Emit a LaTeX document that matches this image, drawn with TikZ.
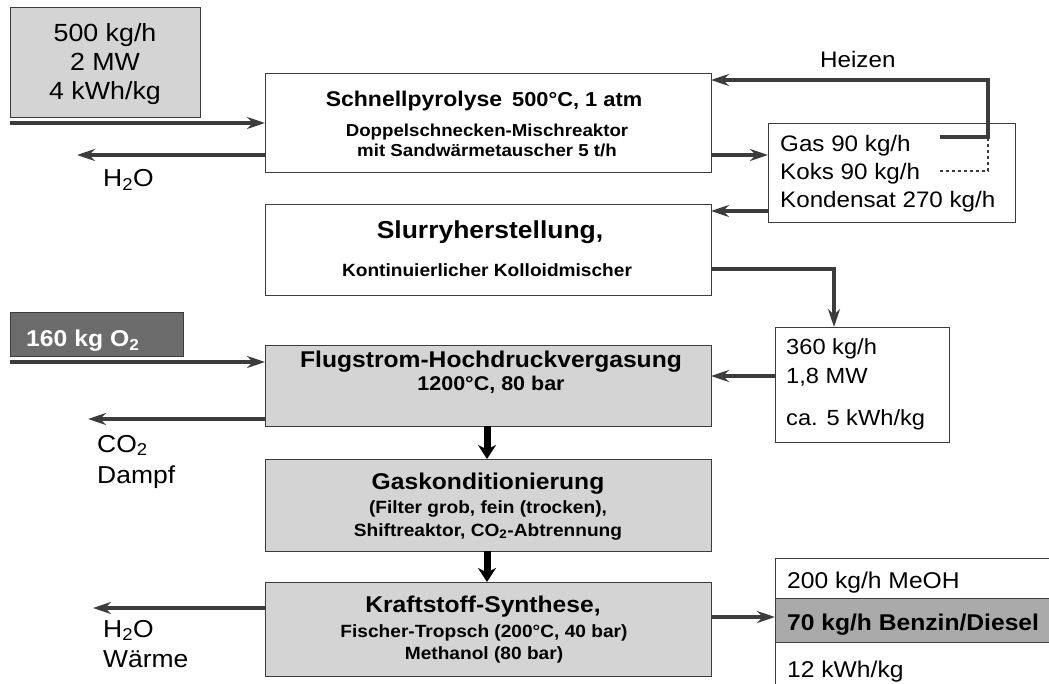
\documentclass[tikz,border=0pt]{standalone}
\usepackage{fontspec}
\setmainfont{Liberation Sans}[FakeStretch=1.08]
\usetikzlibrary{arrows.meta}
\definecolor{lightfill}{RGB}{212,212,212}
\definecolor{darkfill}{RGB}{108,108,108}
\definecolor{midfill}{RGB}{170,170,170}
\definecolor{linegray}{RGB}{60,60,60}
\newcommand\fsz[1]{\fontsize{#1}{#1}\selectfont}
\begin{document}
\begin{tikzpicture}[x=1pt,y=-1pt,
  box/.style={draw=linegray, line width=0.9pt, inner sep=0pt, outer sep=0pt, anchor=north west},
  txt/.style={inner sep=0pt, anchor=base},
  txtl/.style={inner sep=0pt, anchor=base west},
  flow/.style={draw=linegray, line width=3.4pt, -{Stealth[length=18pt,width=12pt]}},
  dnarrow/.style={draw=black, line width=7pt, -{Stealth[length=14pt,width=18pt]}}]
\useasboundingbox (0,0) rectangle (1049,684);
\clip (0,0) rectangle (1049,684);
\fill[white] (0,0) rectangle (1049,684);

% boxes
\node[box, fill=lightfill, minimum width=190pt, minimum height=110pt] (feed) at (10,7) {};
\node[box, fill=white, minimum width=446pt, minimum height=99pt] (pyro) at (265,73) {};
\node[box, fill=white, minimum width=247pt, minimum height=99pt] (gasb) at (768,123) {};
\node[box, fill=white, minimum width=446pt, minimum height=91pt] (slurry) at (265,204) {};
\node[box, fill=white, minimum width=174pt, minimum height=115pt] (mix) at (775,327) {};
\node[box, fill=darkfill, minimum width=173pt, minimum height=44pt] (oxy) at (10,312) {};
\node[box, fill=lightfill, minimum width=446pt, minimum height=81pt] (flug) at (265,345) {};
\node[box, fill=lightfill, minimum width=446pt, minimum height=92pt] (gaskon) at (265,459) {};
\node[box, fill=lightfill, minimum width=446pt, minimum height=94pt] (kraft) at (265,582) {};
\node[box, fill=white, minimum width=290pt, minimum height=140pt] (prod) at (775,558) {};
\node[box, fill=midfill, minimum width=290pt, minimum height=44pt] (benzin) at (775,598) {};

% texts
\node[txt] (feedA) at (105,42) {\fsz{24.8}500 kg/h};
\node[txt] (feedB) at (105,71) {\fsz{24.8}2 MW};
\node[txt] (feedC) at (105,100) {\fsz{24.8}4 kWh/kg};

\node[txt] (pyroA) at (484,107) {\bfseries\fsz{21.3}Schnellpyrolyse\hspace{10pt}{\fsz{20.2}500°C, 1 atm}};
\node[txt] (pyroB) at (487,137) {\bfseries\fsz{17.3}Doppelschnecken-Mischreaktor};
\node[txt] (pyroC) at (487,157) {\bfseries\fsz{17.3}mit Sandwärmetauscher 5 t/h};

\node[txtl] (gasA) at (780,152) {\fsz{22.4}Gas 90 kg/h};
\node[txtl] (gasB) at (780,180) {\fsz{22.4}Koks 90 kg/h};
\node[txtl] (gasC) at (780,208) {\fsz{22.4}Kondensat 270 kg/h};
\node[txtl] (heiz) at (820,68) {\fsz{22.4}Heizen};

\node[txt] (slA) at (490,239) {\bfseries\fsz{24.5}Slurryherstellung,};
\node[txt] (slB) at (487,277) {\bfseries\fsz{17.7}Kontinuierlicher Kolloidmischer};

\node[txtl] (mixA) at (786,355) {\fsz{21.9}360 kg/h};
\node[txtl] (mixB) at (786,383) {\fsz{21.9}1,8 MW};
\node[txtl] (mixC) at (786,425) {\fsz{21.9}ca. 5 kWh/kg};

\node[txtl, text=white] (oxyT) at (26,347) {\bfseries\fsz{22.9}160 kg O\textsubscript{2}};

\node[txt] (flA) at (491,367) {\bfseries\fsz{22.8}Flugstrom-Hochdruckvergasung};
\node[txt] (flB) at (491,390) {\bfseries\fsz{19.9}1200°C, 80 bar};

\node[txt] (gkA) at (488,489) {\bfseries\fsz{22.8}Gaskonditionierung};
\node[txt] (gkB) at (488,513) {\bfseries\fsz{17.7}(Filter grob, fein (trocken),};
\node[txt] (gkC) at (488,536) {\bfseries\fsz{17.7}Shiftreaktor, CO\textsubscript{2}-Abtrennung};

\node[txt] (krA) at (483,612) {\bfseries\fsz{22.8}Kraftstoff-Synthese,};
\node[txt] (krB) at (484,637) {\bfseries\fsz{17.7}Fischer-Tropsch (200°C, 40 bar)};
\node[txt] (krC) at (484,659) {\bfseries\fsz{17.7}Methanol (80 bar)};

\node[txtl] (prA) at (787,588) {\fsz{22.8}200 kg/h MeOH};
\node[txtl] (prB) at (787,630) {\bfseries\fsz{22.8}70 kg/h Benzin/Diesel};
\node[txtl] (prC) at (787,677) {\fsz{22.8}12 kWh/kg};

\node[txtl] (lbH2Oa) at (103,187) {\fsz{24.5}H\textsubscript{2}O};
\node[txtl] (lbCO2) at (97,452) {\fsz{24.5}CO\textsubscript{2}};
\node[txtl] (lbDampf) at (97,483) {\fsz{24.5}Dampf};
\node[txtl] (lbH2Ob) at (103,637) {\fsz{24.5}H\textsubscript{2}O};
\node[txtl] (lbWaerme) at (103,667) {\fsz{24.5}Wärme};

% coordinates for connector ends
\coordinate (inFeed) at (10,123);
\coordinate (outH2Oa) at (77,155);
\coordinate (yPyroGas) at (0,155);
\coordinate (hzA) at (940,137);
\coordinate (hzB) at (988,137);
\coordinate (hzC) at (988,80);
\coordinate (kkA) at (940,171);
\coordinate (kkB) at (988,171);
\coordinate (yCond) at (0,211);
\coordinate (slC) at (834,269);
\coordinate (yMix) at (0,376);
\coordinate (inOxy) at (10,362);
\coordinate (outCO2) at (88,419);
\coordinate (outH2Ob) at (93,608);
\coordinate (yProd) at (0,617);
\coordinate (xMain) at (487,0);

% connectors
\draw[flow] (inFeed) -- (inFeed -| pyro.west);
\draw[flow] (pyro.west |- outH2Oa) -- (outH2Oa);
\draw[flow] (pyro.east |- yPyroGas) -- (gasb.west |- yPyroGas);
\draw[flow] (hzA) -- (hzB) -- (hzC) -- (hzC -| pyro.east);
\draw[linegray, line width=2.8pt, dash pattern=on 2.8pt off 3.2pt] (kkA) -- (kkB) -- (hzB);
\draw[flow] (gasb.west |- yCond) -- (slurry.east |- yCond);
\draw[flow] (slurry.east |- slC) -- (slC) -- (slC |- mix.north);
\draw[flow] (mix.west |- yMix) -- (flug.east |- yMix);
\draw[flow] (inOxy) -- (inOxy -| flug.west);
\draw[flow] (flug.west |- outCO2) -- (outCO2);
\draw[dnarrow] (xMain |- flug.south) -- (xMain |- gaskon.north);
\draw[dnarrow] (xMain |- gaskon.south) -- (xMain |- kraft.north);
\draw[flow] (kraft.west |- outH2Ob) -- (outH2Ob);
\draw[flow] (kraft.east |- yProd) -- (prod.west |- yProd);
\end{tikzpicture}
\end{document}
